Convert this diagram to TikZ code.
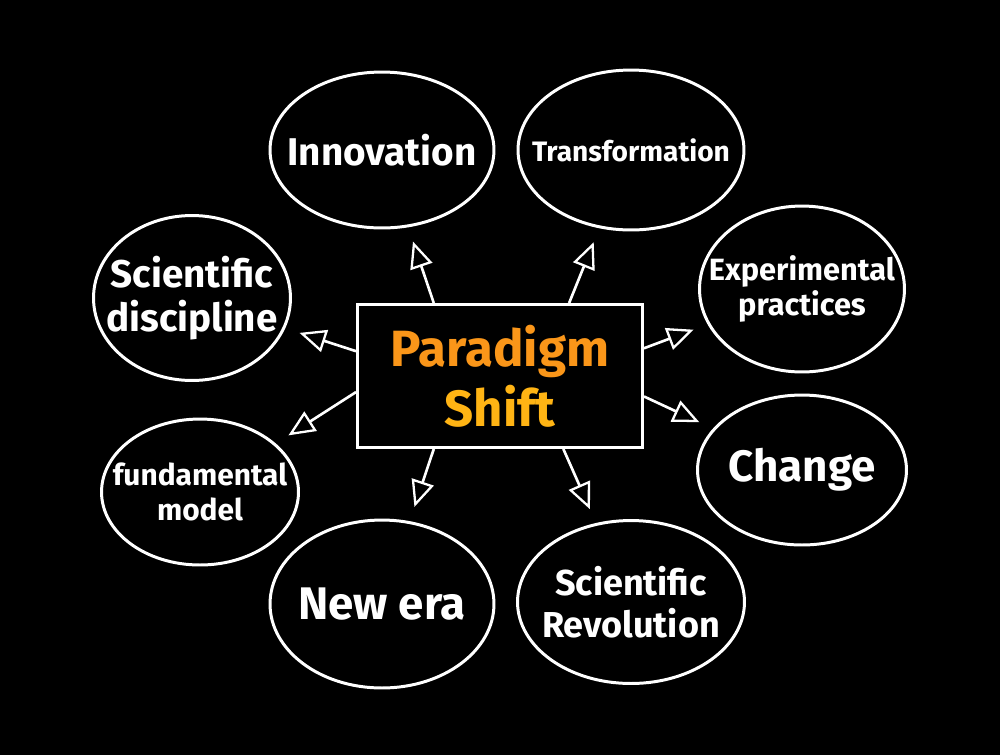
\documentclass[tikz,border=0pt]{standalone}
\usepackage{fontspec}
\setmainfont{Fira Sans}
\usetikzlibrary{arrows.meta,shapes.geometric,calc}
\definecolor{paraorange}{RGB}{250,150,25}
\definecolor{parayellow}{RGB}{255,180,20}
\tikzstyle{bubble}=[ellipse,draw=white,line width=1.7pt,inner sep=0pt]
\tikzstyle{bubble text}=[text=white,align=center,font=\bfseries]
\tikzstyle{main box}=[rectangle,draw=white,line width=1.7pt,fill=black,minimum width=5.7cm,minimum height=2.86cm,align=center]
\tikzstyle{edge}=[draw=white,line width=1.5pt,-{Triangle[open,length=15pt,width=13pt,line width=1.3pt]},shorten >=0.3cm]

\begin{document}
\begin{tikzpicture}[x=0.02cm,y=-0.02cm]
    % Background
    \fill[black] (0,0) rectangle (1000,755);
    \useasboundingbox (0,0) rectangle (1000,755);

    % Centre box
    \node[main box,font=\fontsize{29}{34}\selectfont\bfseries] (shift) at (500,376)
        {\textcolor{paraorange}{Paradigm}\\ \textcolor{parayellow}{Shift}};

    % The bubbles round it
    \node[bubble,minimum width=4.48cm,minimum height=3.12cm,
          label={[bubble text,font=\fontsize{22}{25}\selectfont\bfseries]center:Innovation}] (innovation) at (382,150) {};
    \node[bubble,minimum width=4.52cm,minimum height=3.2cm,
          label={[bubble text,font=\fontsize{16}{19}\selectfont\bfseries]center:Transformation}] (transformation) at (631,150) {};
    \node[bubble,minimum width=3.94cm,minimum height=3.3cm,
          label={[bubble text,font=\fontsize{22}{25}\selectfont\bfseries]center:Scientific\\ discipline}] (discipline) at (192,298) {};
    \node[bubble,minimum width=4.1cm,minimum height=3.32cm,
          label={[bubble text,font=\fontsize{17.5}{20}\selectfont\bfseries]center:Experimental\\ practices}] (practices) at (802,289) {};
    \node[bubble,minimum width=3.94cm,minimum height=2.92cm,
          label={[bubble text,font=\fontsize{17}{20}\selectfont\bfseries]center:fundamental\\ model}] (model) at (200,492) {};
    \node[bubble,minimum width=4.18cm,minimum height=3.0cm,
          label={[bubble text,font=\fontsize{25}{28}\selectfont\bfseries]center:Change}] (change) at (802,470) {};
    \node[bubble,minimum width=4.48cm,minimum height=3.36cm,
          label={[bubble text,font=\fontsize{26}{29}\selectfont\bfseries]center:New era}] (newera) at (382,604) {};
    \node[bubble,minimum width=4.54cm,minimum height=3.26cm,
          label={[bubble text,font=\fontsize{20.5}{24}\selectfont\bfseries]center:Scientific\\ Revolution}] (revolution) at (631,602) {};

    % Arrows out of the box
    \path[edge] ($(shift.north west)!0.27!(shift.north east)$) -- (innovation);
    \path[edge] ($(shift.north west)!0.74!(shift.north east)$) -- (transformation);
    \path[edge] ($(shift.north west)!0.33!(shift.south west)$) -- (discipline);
    \path[edge] ($(shift.north west)!0.61!(shift.south west)$) -- (model);
    \path[edge] ($(shift.south west)!0.27!(shift.south east)$) -- (newera);
    \path[edge] ($(shift.south west)!0.72!(shift.south east)$) -- (revolution);
    \path[edge] ($(shift.north east)!0.31!(shift.south east)$) -- (practices);
    \path[edge] ($(shift.north east)!0.64!(shift.south east)$) -- (change);
\end{tikzpicture}
\end{document}
